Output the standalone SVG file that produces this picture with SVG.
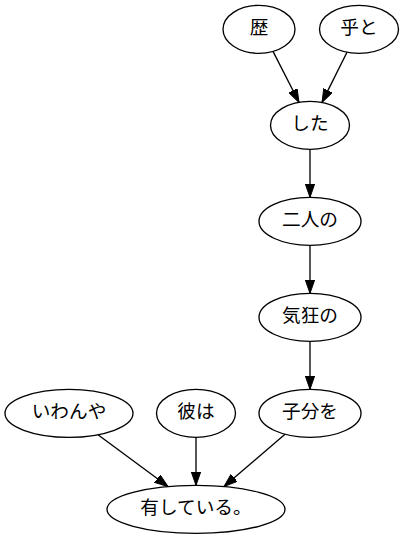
<svg xmlns="http://www.w3.org/2000/svg" width="404" height="539" viewBox="0 0 404 539">
<style>
.n ellipse{fill:none;stroke:#000;stroke-width:1.33}
.n text{font-family:"Noto Sans CJK JP","Noto Sans CJK SC",sans-serif;font-size:18.67px;text-anchor:middle;fill:#000}
.e line{stroke:#000;stroke-width:1.33}
</style>
<defs>
<marker id="ah" markerUnits="userSpaceOnUse" markerWidth="14" markerHeight="10" refX="13.3" refY="4.67" orient="auto">
<path d="M0,0 L13.3,4.67 L0,9.33 z" fill="#000" stroke="#000" stroke-width="1"/>
</marker>
</defs>
<g id="connectors" class="e">
<line x1="273" y1="51.4" x2="299" y2="102.3" marker-end="url(#ah)"/>
<line x1="347" y1="52.2" x2="322" y2="102.4" marker-end="url(#ah)"/>
<line x1="310" y1="149.3" x2="310" y2="197.3" marker-end="url(#ah)"/>
<line x1="310" y1="245.3" x2="310" y2="293.3" marker-end="url(#ah)"/>
<line x1="310" y1="341.3" x2="310" y2="389.3" marker-end="url(#ah)"/>
<line x1="98" y1="434.7" x2="168" y2="486.5" marker-end="url(#ah)"/>
<line x1="196" y1="437.3" x2="196" y2="485.3" marker-end="url(#ah)"/>
<line x1="285" y1="434.2" x2="224" y2="486.5" marker-end="url(#ah)"/>
</g>
<g id="n_reki" class="n"><ellipse cx="259" cy="29.3" rx="36" ry="24"/><text x="259" y="34.3">歴</text></g>
<g id="n_koto" class="n"><ellipse cx="359" cy="29.3" rx="39.5" ry="24"/><text x="359" y="34.3">乎と</text></g>
<g id="n_shita" class="n"><ellipse cx="310" cy="125.3" rx="39.5" ry="24"/><text x="310" y="130.3">した</text></g>
<g id="n_futari" class="n"><ellipse cx="310" cy="221.3" rx="51" ry="24"/><text x="310" y="226.3">二人の</text></g>
<g id="n_kikyou" class="n"><ellipse cx="310" cy="317.3" rx="51" ry="24"/><text x="310" y="322.3">気狂の</text></g>
<g id="n_kobun" class="n"><ellipse cx="310" cy="413.3" rx="51" ry="24"/><text x="310" y="418.3">子分を</text></g>
<g id="n_iwanya" class="n"><ellipse cx="69" cy="413.3" rx="64" ry="24"/><text x="69" y="418.3">いわんや</text></g>
<g id="n_kare" class="n"><ellipse cx="196" cy="413.3" rx="39.5" ry="24"/><text x="196" y="418.3">彼は</text></g>
<g id="n_yuu" class="n"><ellipse cx="196" cy="509.3" rx="89" ry="24"/><text x="196" y="514.3">有している。</text></g>
</svg>
